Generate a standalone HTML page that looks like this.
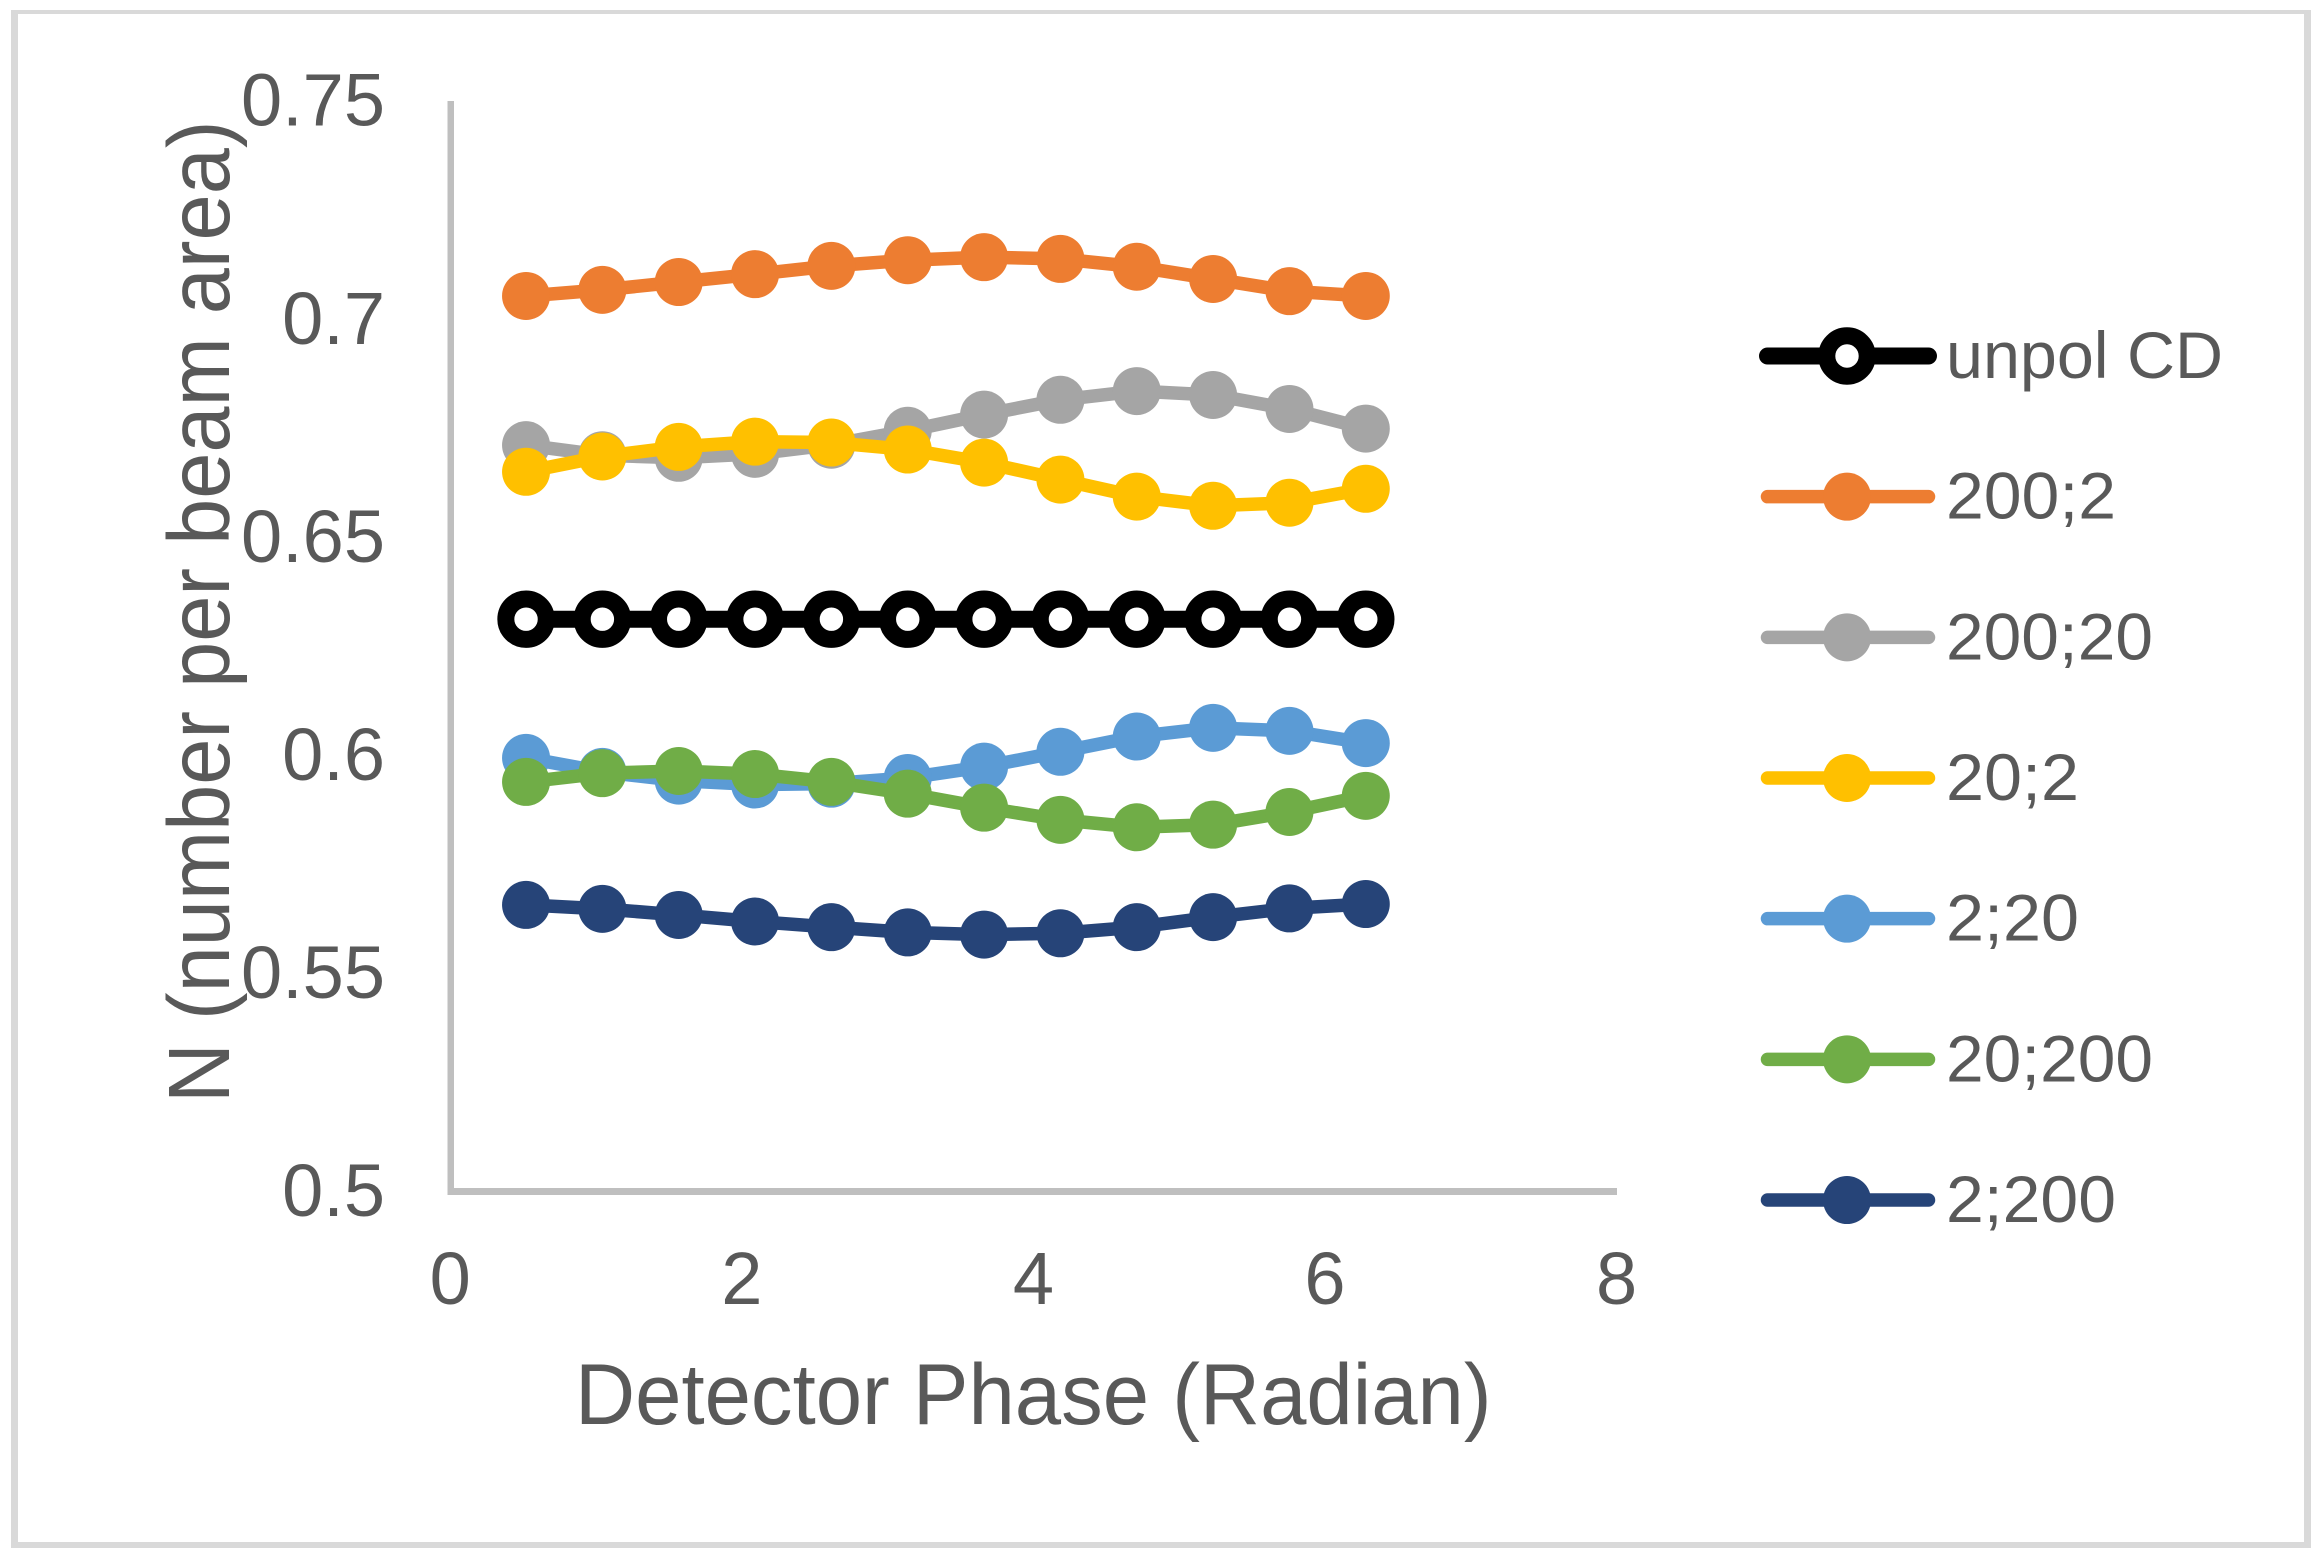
<!DOCTYPE html>
<html lang="en">
<head>
<meta charset="utf-8">
<title>Detector Phase Chart</title>
<style>
html,body{margin:0;padding:0;background:#fff;}
svg{display:block;}
text{font-family:"Liberation Sans",sans-serif;fill:#595959;}
</style>
</head>
<body>
<svg id="chart" xmlns="http://www.w3.org/2000/svg" width="2322" height="1560" viewBox="0 0 2322 1560">
  <rect x="0" y="0" width="2322" height="1560" fill="#ffffff"/>
  <g fill="#d9d9d9">
    <rect x="11" y="10" width="2300" height="4"/>
    <rect x="11" y="1542" width="2300" height="6"/>
    <rect x="11" y="10" width="7" height="1538"/>
    <rect x="2304" y="10" width="7" height="1538"/>
  </g>
  <rect x="447.5" y="101" width="6.5" height="1094" fill="#bfbfbf"/>
  <rect x="447.5" y="1188" width="1169.5" height="7" fill="#bfbfbf"/>
  <text transform="translate(229,1103) rotate(-90) scale(1,1.05)" font-size="83">N (number per beam area)</text>
  <text transform="translate(575,1424) scale(1,1.04)" font-size="83.3">Detector Phase (Radian)</text>
  <g id="y-ticks"></g>
  <g id="x-ticks"></g>
  <g id="plot"></g>
  <g id="legend"></g>
</svg>
<script>
const phase = [0.5236, 1.0472, 1.5708, 2.0944, 2.6180, 3.1416, 3.6652, 4.1888, 4.7124, 5.2360, 5.7596, 6.2832];
const unpolCD = [0.6312, 0.6312, 0.6312, 0.6312, 0.6312, 0.6312, 0.6312, 0.6312, 0.6312, 0.6312, 0.6312, 0.6312];
const s200_2 = [0.7053, 0.7067, 0.7085, 0.7103, 0.7122, 0.7135, 0.7142, 0.7138, 0.7120, 0.7092, 0.7064, 0.7053];
const s200_20 = [0.6711, 0.6688, 0.6682, 0.6691, 0.6712, 0.6744, 0.6781, 0.6815, 0.6835, 0.6826, 0.6794, 0.6749];
const s20_2 = [0.6650, 0.6685, 0.6707, 0.6719, 0.6717, 0.6701, 0.6671, 0.6632, 0.6593, 0.6572, 0.6579, 0.6611];
const s2_20 = [0.5994, 0.5962, 0.5942, 0.5933, 0.5935, 0.5948, 0.5974, 0.6008, 0.6043, 0.6063, 0.6056, 0.6028];
const s20_200 = [0.5939, 0.5959, 0.5964, 0.5957, 0.5939, 0.5912, 0.5880, 0.5852, 0.5835, 0.5841, 0.5870, 0.5907];
const s2_200 = [0.5657, 0.5648, 0.5634, 0.5619, 0.5606, 0.5594, 0.5589, 0.5592, 0.5606, 0.5629, 0.5649, 0.5659];
const seriesValues = [unpolCD, s200_2, s200_20, s20_2, s2_20, s20_200, s2_200];
const seriesNames = ["unpol CD", "200;2", "200;20", "20;2", "2;20", "20;200", "2;200"];
const seriesKeys = ["unpol-cd", "200-2", "200-20", "20-2", "2-20", "20-200", "2-200"];
const seriesColors = ["#000000", "#ed7d31", "#a5a5a5", "#ffc000", "#5b9bd5", "#70ad47", "#264478"];
const yTickValues = [0.5, 0.55, 0.6, 0.65, 0.7, 0.75];
const yTickLabels = ["0.5", "0.55", "0.6", "0.65", "0.7", "0.75"];
const xTickValues = [0, 2, 4, 6, 8];
const xTickLabels = ["0", "2", "4", "6", "8"];
const legendTextWidths = [277, 170, 207, 133, 133, 207, 170];

const NS = "http://www.w3.org/2000/svg";
function xScale(v) { return 449.7 + (v - 0) * 145.8; }
function yScale(v) { return 1191.5 - (v - 0.5) * 4362; }
function make(tag, attrs, parent) {
  const node = document.createElementNS(NS, tag);
  for (const k in attrs) node.setAttribute(k, attrs[k]);
  parent.appendChild(node);
  return node;
}

const yTicksG = document.getElementById("y-ticks");
yTickValues.forEach(function (v, i) {
  const t = make("text", { x: 385, y: yScale(v) + 24.7, "font-size": 74, "text-anchor": "end" }, yTicksG);
  t.textContent = yTickLabels[i];
  
  
});

const xTicksG = document.getElementById("x-ticks");
xTickValues.forEach(function (v, i) {
  const t = make("text", { x: xScale(v) + 0.5, y: 1304, "font-size": 74, "text-anchor": "middle" }, xTicksG);
  t.textContent = xTickLabels[i];
  
  
});

function drawMarker(parent, cx, cy, seriesIndex) {
  const hollow = seriesIndex === 0;
  const m = make("circle", hollow
    ? { cx: cx, cy: cy, r: 20.2, fill: "#ffffff", stroke: seriesColors[seriesIndex], "stroke-width": 17 }
    : { cx: cx, cy: cy, r: 24, fill: seriesColors[seriesIndex] }, parent);
  return m;
}

const plot = document.getElementById("plot");
seriesValues.forEach(function (vals, s) {
  const g = make("g", {}, plot);
  
  
  const pts = vals.map(function (v, i) { return xScale(phase[i]).toFixed(2) + "," + yScale(v).toFixed(2); }).join(" ");
  const line = make("polyline", {
    points: pts, fill: "none", stroke: seriesColors[s],
    "stroke-width": s === 0 ? 17 : 13.5, "stroke-linejoin": "round", "stroke-linecap": "round"
  }, g);
  
  
  vals.forEach(function (v, i) {
    const m = drawMarker(g, xScale(phase[i]), yScale(v), s);
    
    
  });
});

const legend = document.getElementById("legend");
seriesNames.forEach(function (name, s) {
  const cy = 356 + s * 140.67;
  const g = make("g", {}, legend);
  
  
  const line = make("line", {
    x1: 1767.5, x2: 1928.5, y1: cy, y2: cy,
    stroke: seriesColors[s], "stroke-width": s === 0 ? 17 : 13.5, "stroke-linecap": "round"
  }, g);
  
  
  const m = drawMarker(g, 1847, cy, s);
  
  
  const t = make("text", {
    x: 1946, y: cy + 22, "font-size": 66,
    textLength: legendTextWidths[s], lengthAdjust: "spacingAndGlyphs"
  }, g);
  t.textContent = name;
  
  
});
</script>
</body>
</html>
